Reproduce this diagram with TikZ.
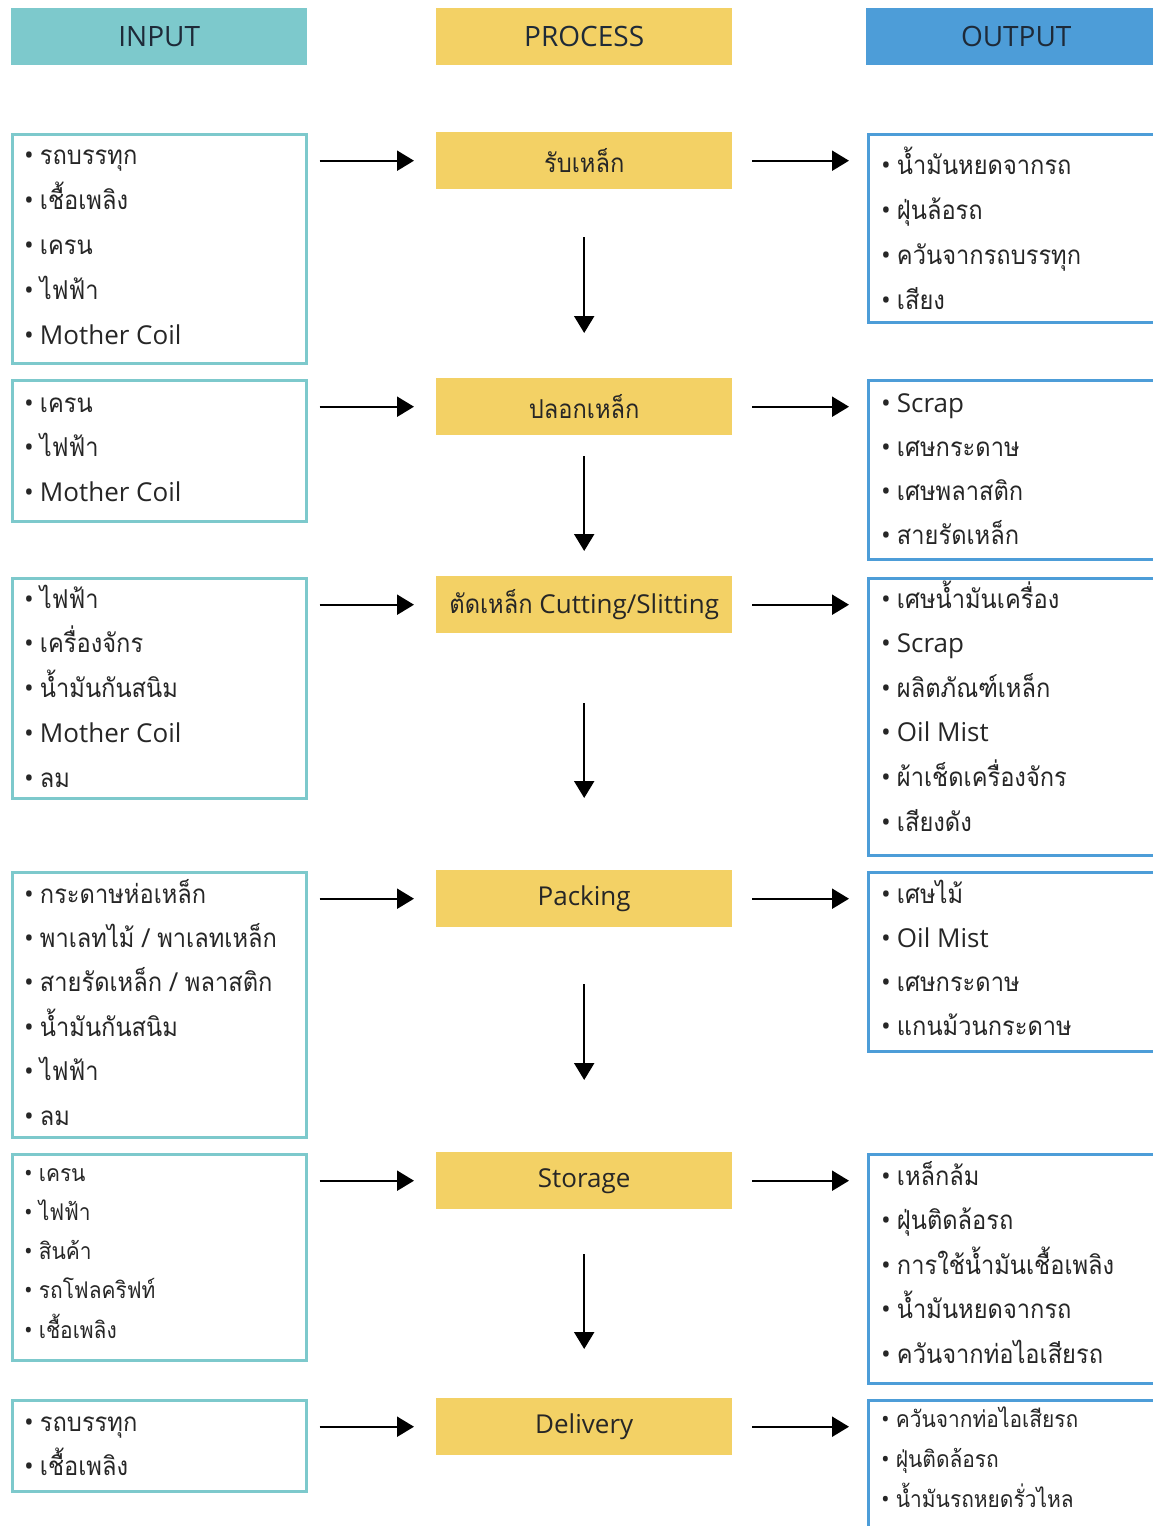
\documentclass[tikz,border=0pt]{standalone}
\usepackage{fontspec}
\setmainfont{Open Sans}
\newfontfamily\thaifont[Script=Thai, FakeStretch=0.91]{Loma}
\newfontfamily\latfont{Open Sans}
\usetikzlibrary{arrows.meta}

\definecolor{inteal}{HTML}{7DC9CC}
\definecolor{procyellow}{HTML}{F3D165}
\definecolor{outblue}{HTML}{4D9DD8}
\definecolor{headtext}{HTML}{1E2A38}
\definecolor{itemtext}{HTML}{262626}

\newcommand{\bul}{{\latfont\textbullet}\hspace{6pt}}

\tikzset{
  head/.style={anchor=north west, inner sep=0pt, minimum width=296, minimum height=57,
    font=\fontsize{28}{30}\selectfont, text=headtext},
  inbox/.style={anchor=north west, draw=inteal, line width=2.5pt, minimum width=294, inner sep=0pt},
  outbox/.style={anchor=north west, draw=outblue, line width=2.5pt, minimum width=300, inner sep=0pt},
  procbox/.style={anchor=north west, fill=procyellow, inner sep=0pt, minimum width=296, minimum height=57,
    font=\fontsize{26}{30}\selectfont, text=itemtext},
  item/.style={anchor=base west, inner sep=0pt, text=itemtext, font=\thaifont\fontsize{26}{30}\selectfont},
  smallitem/.style={item, font=\thaifont\fontsize{23}{26}\selectfont},
  arr/.style={line width=2.2pt, -{Triangle[length=17pt, width=20pt]}}
}

\begin{document}
\begin{tikzpicture}[x=1pt, y=-1pt]
\useasboundingbox (0,0) rectangle (1153,1526);
\clip (0,0) rectangle (1153,1526);

% headers
\node[head, fill=inteal] (hin) at (11,8) {INPUT};
\node[head, fill=procyellow] (hproc) at (436,8) {PROCESS};
\node[head, fill=outblue, minimum width=300] (hout) at (866,8) {OUTPUT};

% process steps
\node[procbox] (p1) at (436,132) {\thaifont รับเหล็ก};
\node[procbox] (p2) at (436,378) {\thaifont ปลอกเหล็ก};
\node[procbox] (p3) at (436,576) {{\thaifont ตัดเหล็ก} Cutting/Slitting};
\node[procbox] (p4) at (436,870) {Packing};
\node[procbox] (p5) at (436,1152) {Storage};
\node[procbox] (p6) at (436,1398) {Delivery};

% input boxes
\node[inbox, minimum height=229] (i1) at (11,133) {};
\node[inbox, minimum height=141] (i2) at (11,379) {};
\node[inbox, minimum height=220] (i3) at (11,577) {};
\node[inbox, minimum height=265] (i4) at (11,871) {};
\node[inbox, minimum height=206] (i5) at (11,1153) {};
\node[inbox, minimum height=91] (i6) at (11,1399) {};

% output boxes
\node[outbox, minimum height=188] (o1) at (867,133) {};
\node[outbox, minimum height=179] (o2) at (867,379) {};
\node[outbox, minimum height=277] (o3) at (867,577) {};
\node[outbox, minimum height=179] (o4) at (867,871) {};
\node[outbox, minimum height=229] (o5) at (867,1153) {};
\node[outbox, minimum height=160] (o6) at (867,1399) {};

% input items
\foreach \t [count=\k] in {รถบรรทุก, เชื้อเพลิง, เครน, ไฟฟ้า, {\latfont Mother Coil}}
  \node[item] (i1-\k) at (24,{164+45*(\k-1)}) {\bul\t};
\foreach \t [count=\k] in {เครน, ไฟฟ้า, {\latfont Mother Coil}}
  \node[item] (i2-\k) at (24,{412+44.5*(\k-1)}) {\bul\t};
\foreach \t [count=\k] in {ไฟฟ้า, เครื่องจักร, น้ำมันกันสนิม, {\latfont Mother Coil}, ลม}
  \node[item] (i3-\k) at (24,{608+44.8*(\k-1)}) {\bul\t};
\foreach \t [count=\k] in {กระดาษห่อเหล็ก, พาเลทไม้ / พาเลทเหล็ก, สายรัดเหล็ก / พลาสติก, น้ำมันกันสนิม, ไฟฟ้า, ลม}
  \node[item] (i4-\k) at (24,{903+44.4*(\k-1)}) {\bul\t};
\foreach \t [count=\k] in {เครน, ไฟฟ้า, สินค้า, รถโฟลคริฟท์, เชื้อเพลิง}
  \node[smallitem] (i5-\k) at (24,{1181+39.3*(\k-1)}) {\bul\t};
\foreach \t [count=\k] in {รถบรรทุก, เชื้อเพลิง}
  \node[item] (i6-\k) at (24,{1431+44*(\k-1)}) {\bul\t};

% output items
\foreach \t [count=\k] in {น้ำมันหยดจากรถ, ฝุ่นล้อรถ, ควันจากรถบรรทุก, เสียง}
  \node[item] (o1-\k) at (881,{174+45*(\k-1)}) {\bul\t};
\foreach \t [count=\k] in {{\latfont Scrap}, เศษกระดาษ, เศษพลาสติก, สายรัดเหล็ก}
  \node[item] (o2-\k) at (881,{412+44.3*(\k-1)}) {\bul\t};
\foreach \t [count=\k] in {เศษน้ำมันเครื่อง, {\latfont Scrap}, ผลิตภัณฑ์เหล็ก, {\latfont Oil Mist}, ผ้าเช็ดเครื่องจักร, เสียงดัง}
  \node[item] (o3-\k) at (881,{608+44.6*(\k-1)}) {\bul\t};
\foreach \t [count=\k] in {เศษไม้, {\latfont Oil Mist}, เศษกระดาษ, แกนม้วนกระดาษ}
  \node[item] (o4-\k) at (881,{903+44.3*(\k-1)}) {\bul\t};
\foreach \t [count=\k] in {เหล็กล้ม, ฝุ่นติดล้อรถ, การใช้น้ำมันเชื้อเพลิง, น้ำมันหยดจากรถ, ควันจากท่อไอเสียรถ}
  \node[item] (o5-\k) at (881,{1185+44.5*(\k-1)}) {\bul\t};
\foreach \t [count=\k] in {ควันจากท่อไอเสียรถ, ฝุ่นติดล้อรถ, น้ำมันรถหยดรั่วไหล}
  \node[smallitem] (o6-\k) at (881,{1427+40*(\k-1)}) {\bul\t};

% arrows in
\foreach \n in {1,...,6}
  \draw[arr, shorten <=12pt, shorten >=22pt] (i\n.east |- p\n.center) -- (p\n.west);
% arrows out
\foreach \n in {1,...,6}
  \draw[arr, shorten <=20pt, shorten >=18pt] (p\n.east) -- (o\n.west |- p\n.center);

% arrows down
\draw[arr, shorten <=48pt, shorten >=45pt] (p1.south) -- (p2.north);
\draw[arr, shorten <=21pt, shorten >=25pt] (p2.south) -- (p3.north);
\draw[arr, shorten <=70pt, shorten >=72pt] (p3.south) -- (p4.north);
\draw[arr, shorten <=57pt, shorten >=72pt] (p4.south) -- (p5.north);
\draw[arr, shorten <=45pt, shorten >=49pt] (p5.south) -- (p6.north);
\end{tikzpicture}
\end{document}
